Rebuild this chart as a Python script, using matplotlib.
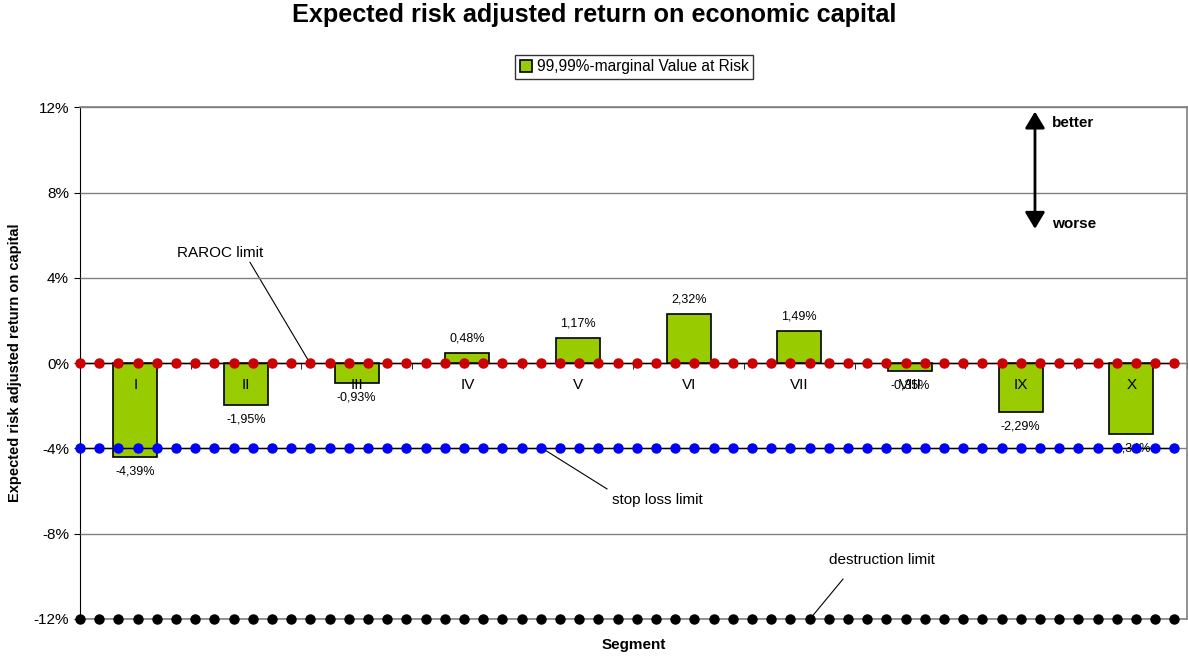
import matplotlib
matplotlib.use("Agg")
import matplotlib.pyplot as plt
import numpy as np

plt.rcParams['font.family'] = ['Liberation Sans', 'DejaVu Sans']

# ---- data ----
segments = ["I", "II", "III", "IV", "V", "VI", "VII", "VIII", "IX", "X"]
rar_values = [-4.39, -1.95, -0.93, 0.48, 1.17, 2.32, 1.49, -0.35, -2.29, -3.34]  # percent
series_name = "99,99%-marginal Value at Risk"
raroc_limit = 0.0
stop_loss_limit = -4.0
destruction_limit = -12.0
n_limit_points = 58
y_ticks = [-12, -8, -4, 0, 4, 8, 12]

bar_color = "#99CC00"
grid_gray = "#808080"

fig = plt.figure(figsize=(11.88, 6.57), dpi=100)
L, R = 80 / 1188, 1186.7 / 1188
T, B = 1 - 107.3 / 657, 1 - 619 / 657
ax = fig.add_axes([L, B, R - L, T - B])

x = np.arange(len(segments))
ax.bar(x, rar_values, width=0.4, color=bar_color, edgecolor="black", linewidth=1.2, zorder=2,
       label=series_name)
ax.set_xlim(-0.5, len(segments) - 0.5)
ax.set_ylim(-12, 12)
ax.set_yticks(y_ticks)
ax.set_yticklabels([f"{t}%" for t in y_ticks], fontsize=11)
ax.yaxis.grid(True, color=grid_gray, linewidth=1)
ax.set_axisbelow(False)

# x-axis at zero
ax.spines['bottom'].set_position(('data', 0))
ax.spines['bottom'].set_color('black')
ax.spines['top'].set_visible(False)
ax.spines['right'].set_visible(False)
ax.spines['left'].set_color('black')
ax.set_xticks(x)
ax.set_xticklabels(segments, fontsize=11)
ax.tick_params(axis='x', which='major', length=0, pad=11)
ax.set_xticks(np.arange(-0.5, len(segments), 1.0), minor=True)
ax.tick_params(axis='x', which='minor', length=4, direction='out', color='black')
ax.tick_params(axis='y', length=4, direction='out', pad=4)

# value labels
for xi, v in zip(x, rar_values):
    lab = f"{v:.2f}%".replace(".", ",")
    off = 10.5 if v >= 0 else -10.5
    ax.annotate(lab, (xi, v), xytext=(0, off), textcoords='offset points',
                ha='center', va='center', fontsize=9, zorder=4)

# annotations
ax.text(0.765, 5.16, "RAROC limit", fontsize=11, ha='center', va='center')
ax.plot([1.036, 1.578], [4.73, 0.0], color='black', lw=0.8, zorder=2)
ax.text(4.714, -6.42, "stop loss limit", fontsize=11, ha='center', va='center')
ax.plot([3.672, 4.262], [-3.98, -5.9], color='black', lw=0.8, zorder=2)
ax.text(6.747, -9.24, "destruction limit", fontsize=11, ha='center', va='center')
ax.plot([6.394, 6.096], [-10.13, -12.0], color='black', lw=0.8, zorder=2)

ax.annotate("", xy=(8.129, 11.8), xytext=(8.129, 6.3),
            arrowprops=dict(arrowstyle='<|-|>,head_length=0.5,head_width=0.3', color='black',
                            lw=2, mutation_scale=20, shrinkA=0, shrinkB=0))
ax.text(8.28, 11.27, "better", fontsize=11, fontweight='bold', ha='left', va='center')
ax.text(8.28, 6.52, "worse", fontsize=11, fontweight='bold', ha='left', va='center')

# limit series on twin x axis
ax2 = ax.twiny()
ax2.set_xlim(0, 57.64)
idx = np.arange(n_limit_points)
ax2.plot(idx, [raroc_limit] * n_limit_points, '-', color='black', lw=1,
         marker='o', markersize=6.5, markerfacecolor='#CC0000', markeredgecolor='#CC0000',
         clip_on=False, zorder=5)
ax2.plot(idx, [stop_loss_limit] * n_limit_points, '-', color='black', lw=1,
         marker='o', markersize=6.5, markerfacecolor='#0000FF', markeredgecolor='#0000FF',
         clip_on=False, zorder=5)
ax2.plot(idx, [destruction_limit] * n_limit_points, linestyle='none',
         marker='o', markersize=6.5, markerfacecolor='black', markeredgecolor='black',
         clip_on=False, zorder=5)
ax2.set_xticks([])
for s in ['top', 'right', 'bottom']:
    ax2.spines[s].set_color(grid_gray)
    ax2.spines[s].set_linewidth(1.2)
ax2.spines['left'].set_visible(False)

# title, labels, legend
fig.text(594 / 1188, 1 - 15 / 657, "Expected risk adjusted return on economic capital",
         fontsize=18.2, fontweight='bold', ha='center', va='center')
fig.text(15 / 1188, 1 - 363 / 657, "Expected risk adjusted return on capital",
         fontsize=10.5, fontweight='bold', ha='center', va='center', rotation=90)
fig.text(634 / 1188, 1 - 645 / 657, "Segment", fontsize=11, fontweight='bold',
         ha='center', va='center')

h, l = ax.get_legend_handles_labels()
leg = fig.legend(h, l, loc='center', bbox_to_anchor=(634 / 1188, 1 - 67 / 657),
                 fontsize=11.2, frameon=True, fancybox=False, handlelength=0.8,
                 handleheight=0.8, handletextpad=0.3, borderpad=0.3, borderaxespad=0)
leg.get_frame().set_edgecolor('black')
leg.get_frame().set_linewidth(1)

fig.savefig("out.png", dpi=100)
